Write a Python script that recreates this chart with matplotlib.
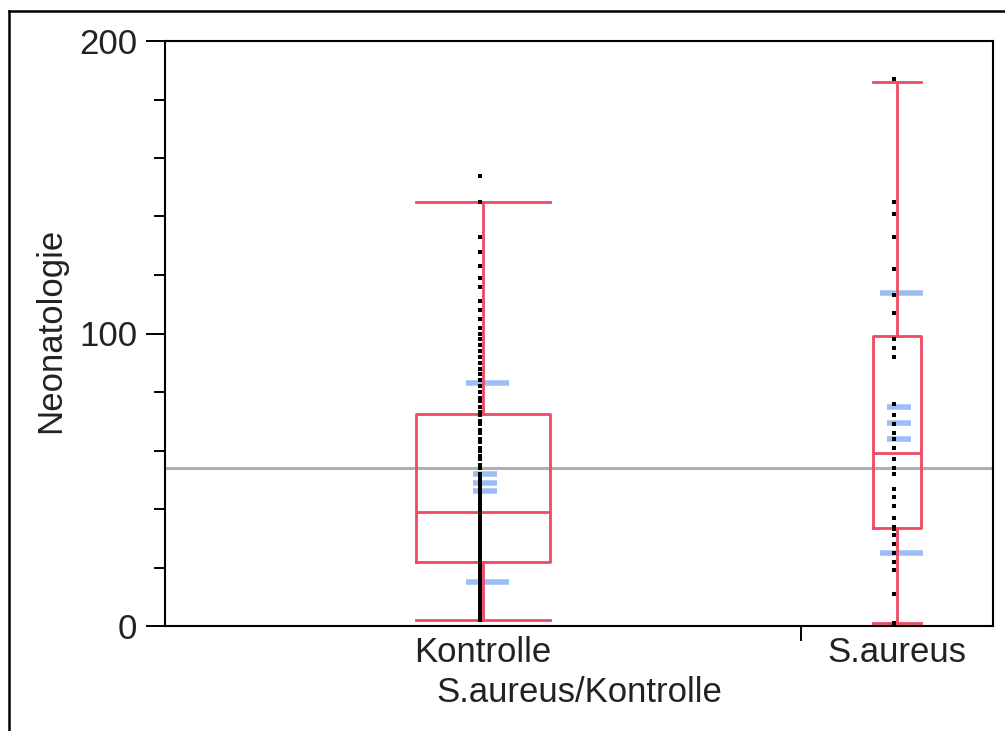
import matplotlib
matplotlib.use('Agg')
import matplotlib.pyplot as plt
from matplotlib.lines import Line2D
from matplotlib.ticker import MultipleLocator
import numpy as np

# ==================== DATA ====================

groups = ['Kontrolle', 'S.aureus']

kontrolle = [2, 3, 4, 5, 6, 7, 8, 9, 10, 10, 11, 12, 12, 13, 14, 15, 15, 16,
             17, 17, 18, 19, 19, 20, 21, 21,
             22, 23, 23, 24, 25, 25, 26, 27, 27, 28, 29, 29, 30, 31, 31, 32,
             33, 33, 34, 34, 35, 36, 36, 37, 37, 38, 38,
             39, 40, 41, 42, 43, 44, 45, 46, 47, 48, 49, 50, 51, 52, 54, 55,
             57, 58, 60, 61, 63, 64, 66, 67, 69, 70, 72,
             73, 75, 77, 78, 80, 82, 84, 86, 88, 90, 92, 94, 96, 98, 100, 102,
             105, 108, 111, 116, 119, 123, 128, 133, 145, 154]
saureus = [1, 11, 19, 22, 25, 28, 31, 33, 34, 37, 41, 44, 47, 52, 54, 57,
           61, 64, 66, 69, 72, 76, 92, 95, 98, 107, 113, 122, 133, 141, 145, 187]

# summary statistics shown in the chart
q1 = [22, 33.5]
median = [39, 59]
q3 = [72.5, 99]
whisk_lo = [2, 1]
whisk_hi = [145, 186]
means = [49, 69.4]
sd = [34, 44.6]
se = [2.9, 5.5]
grand_mean = 54

# ==================== STYLE ====================

RED = '#ee4a63'
BLUE = '#9dbef5'
GREY = '#b0b0b0'
TEXT = '#222222'
FONT = 'Liberation Sans'
FS = 25

W, H = 1005, 731

plt.rcParams['font.family'] = [FONT, 'DejaVu Sans']

fig = plt.figure(figsize=(W / 100, H / 100), dpi=100)
ax = fig.add_axes([165 / W, (H - 626) / H, 828 / W, 585 / H])

# x axis is proportional to group size
counts = np.array([len(kontrolle), len(saureus)])
edges = np.cumsum(counts)
centers = edges - counts / 2
box_w = counts * np.array([0.21, 0.245])

# grand mean
ax.axhline(grand_mean, color=GREY, lw=2.2, zorder=1)

# mean / std dev lines
for c, m, s, e in zip(centers, means, sd, se):
    ax.hlines([m - s, m + s], c + 0.8 - 3.6, c + 0.8 + 3.6, color=BLUE, lw=4, zorder=2)
    ax.hlines([m - e, m, m + e], c + 0.25 - 2.0, c + 0.25 + 2.0, color=BLUE, lw=4, zorder=2)

# box plots
stats = []
for i in range(len(groups)):
    stats.append(dict(med=median[i], q1=q1[i], q3=q3[i],
                      whislo=whisk_lo[i], whishi=whisk_hi[i], fliers=[]))
lineprops = dict(color=RED, lw=2.0)
ax.bxp(stats, positions=centers, widths=box_w, capwidths=box_w,
       showfliers=False, manage_ticks=False,
       boxprops=lineprops, whiskerprops=lineprops,
       capprops=lineprops, medianprops=lineprops)

# points
for c, vals in zip(centers, [kontrolle, saureus]):
    ax.plot(np.full(len(vals), c - 0.5), vals, 's', ms=3.0,
            color='black', mew=0, zorder=4)

# ==================== AXES ====================

ax.set_xlim(0, edges[-1])
ax.set_ylim(0, 200)

ax.set_yticks([0, 100, 200])
ax.yaxis.set_minor_locator(MultipleLocator(20))
ax.tick_params(axis='y', which='major', direction='out', length=14, width=1.4,
               labelsize=FS, pad=6, labelcolor=TEXT)
ax.tick_params(axis='y', which='minor', direction='out', length=8, width=1.4)

ax.set_xticks(centers)
ax.set_xticklabels(groups)
ax.set_xticks([edges[0]], minor=True)
ax.tick_params(axis='x', which='major', length=0, labelsize=FS, pad=7,
               labelcolor=TEXT)
ax.tick_params(axis='x', which='minor', direction='out', length=11, width=1.4)

for sp in ax.spines.values():
    sp.set_linewidth(1.5)

ax.set_ylabel('Neonatologie', fontsize=FS, color=TEXT)
ax.yaxis.set_label_coords(-0.118, 0.505)
ax.set_xlabel('S.aureus/Kontrolle', fontsize=FS, labelpad=5, color=TEXT)

# outer frame (left and top edges visible)
fig.add_artist(Line2D([9 / W, 9 / W], [0, 1 - 11 / H], color='black', lw=1.8))
fig.add_artist(Line2D([9 / W, 1], [1 - 11 / H, 1 - 11 / H], color='black', lw=1.8))

fig.savefig('out.png', dpi=100)
